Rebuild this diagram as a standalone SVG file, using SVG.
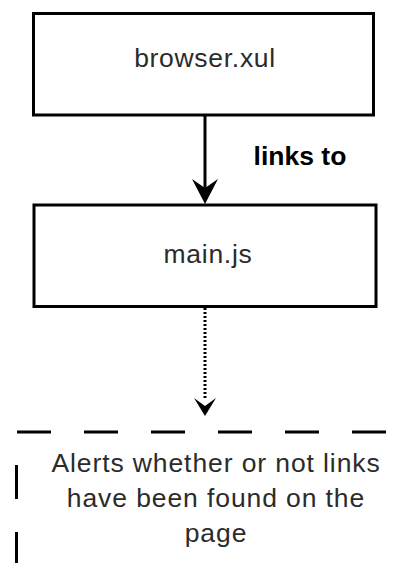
<svg xmlns="http://www.w3.org/2000/svg" width="414" height="563" viewBox="0 0 414 563">
  <style>
    .box { fill: #ffffff; stroke: #000000; stroke-width: 3; }
    .label { font-family: "Liberation Sans", Arial, sans-serif; font-size: 26.5px; fill: #2b2b2b; text-anchor: middle; letter-spacing: 0.7px; }
    .edge-label { font-family: "Liberation Sans", Arial, sans-serif; font-size: 26.5px; font-weight: bold; fill: #000000; text-anchor: middle; }
    .note { font-family: "Liberation Sans", Arial, sans-serif; font-size: 26.5px; fill: #2b2b2b; text-anchor: middle; letter-spacing: 0.9px; }
    .bracket { stroke: #000000; stroke-width: 3; fill: none; stroke-dasharray: 34 33; }
    .solid { stroke: #000000; stroke-width: 3; fill: none; }
    .dotted { stroke: #000000; stroke-width: 3; fill: none; stroke-dasharray: 2 2; }
    .head { fill: #000000; }
  </style>

  <!-- browser.xul -->
  <g id="node-browser-xul">
    <rect class="box" x="33.5" y="13.5" width="340" height="101.5"/>
    <text class="label" x="205" y="67">browser.xul</text>
  </g>

  <!-- main.js -->
  <g id="node-main-js">
    <rect class="box" x="34" y="205" width="342" height="101.5"/>
    <text class="label" x="208" y="263">main.js</text>
  </g>

  <!-- annotation: open dashed bracket with note text -->
  <g id="node-alert-note">
    <line class="bracket" x1="17" y1="432" x2="387" y2="432"/>
    <line class="bracket" x1="16.5" y1="432" x2="16.5" y2="570" stroke-dashoffset="34"/>
    <text class="note" x="216" y="472">Alerts whether or not links</text>
    <text class="note" x="216" y="507">have been found on the</text>
    <text class="note" x="216" y="542">page</text>
  </g>

  <!-- connectors -->
  <g id="connectors">
    <line class="solid" x1="205" y1="115" x2="205" y2="190"/>
    <path class="head" d="M205 204 L192 179 L205 188 L218 179 Z"/>
    <text class="edge-label" x="300" y="165">links to</text>

    <line class="dotted" x1="205" y1="308" x2="205" y2="400"/>
    <path class="head" d="M205 416 L194 398 L205 406 L216 398 Z"/>
  </g>
</svg>
